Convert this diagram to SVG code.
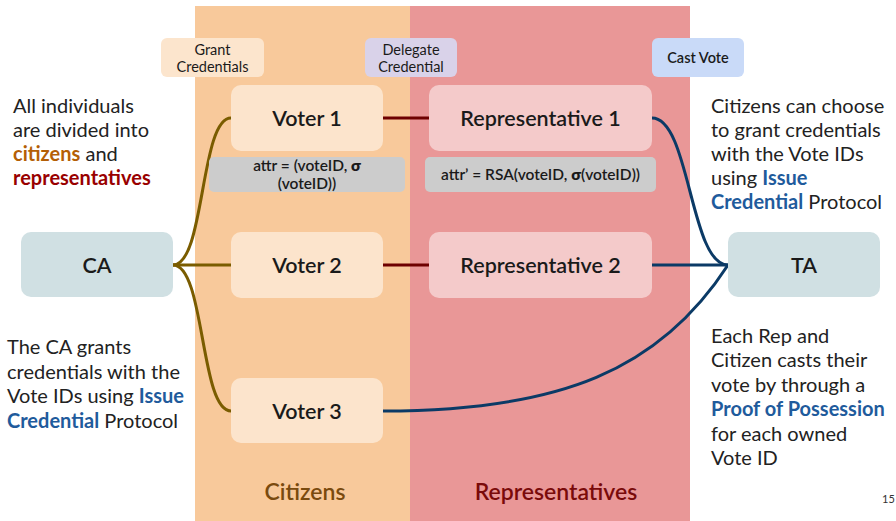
<svg xmlns="http://www.w3.org/2000/svg" width="896" height="521" viewBox="0 0 896 521">
<style>
text{font-family:Lato,"Open Sans","Liberation Sans",sans-serif;}
.node{font-size:21.5px;font-weight:600;fill:#1a1a1a;text-anchor:middle;}
.lbl{font-size:14.5px;fill:#1a1a1a;text-anchor:middle;}
.attr{font-size:15.5px;font-weight:600;fill:#1a1a1a;text-anchor:middle;}
.body{font-size:20px;fill:#222;}
.blue{fill:#1f5b9c;font-weight:700;}
.olive{fill:none;stroke:#7a5c00;stroke-width:3;}
.red{fill:none;stroke:#6e0000;stroke-width:3;}
.navy{fill:none;stroke:#0b3a66;stroke-width:3;}
</style>
<rect width="896" height="521" fill="#ffffff"/>
<rect x="195" y="6" width="215" height="515" fill="#f8c99b"/>
<rect x="410" y="6" width="280" height="515" fill="#e99797"/>
<text x="305" y="500" font-size="23" font-weight="600" fill="#7a4a0e" text-anchor="middle">Citizens</text>
<text x="556" y="500" font-size="23" font-weight="600" fill="#7a0a0a" text-anchor="middle">Representatives</text>
<g id="connectors">
<path class="olive" d="M173,265 C205,265 200,118 231,118"/>
<path class="olive" d="M173,265 L231,265"/>
<path class="olive" d="M173,265 C205,265 200,411 231,411"/>
<path class="red" d="M383,118 L429,118"/>
<path class="red" d="M383,265 L429,265"/>
<path class="navy" d="M652,118 C690,118 690,265 728,265"/>
<path class="navy" d="M652,265 L728,265"/>
<path class="navy" d="M383,411 C560,411 660,370 728,265"/>
</g>
<g id="grant-label"><rect x="161" y="38" width="103" height="39" rx="6" fill="#fce5cd"/><text class="lbl" x="212.5" y="55">Grant</text><text class="lbl" x="212.5" y="72">Credentials</text></g>
<g id="delegate-label"><rect x="365" y="38" width="92" height="39" rx="6" fill="#d9d2e9"/><text class="lbl" x="411" y="55">Delegate</text><text class="lbl" x="411" y="72">Credential</text></g>
<g id="cast-label"><rect x="652" y="38" width="92" height="39" rx="6" fill="#c9daf8"/><text class="lbl" x="698" y="63" font-weight="600">Cast Vote</text></g>
<g id="voter1"><rect x="231" y="85" width="152" height="66" rx="10" fill="#fce4cc"/><text class="node" x="307" y="126">Voter 1</text></g>
<g id="voter2"><rect x="231" y="232" width="152" height="66" rx="10" fill="#fce4cc"/><text class="node" x="307" y="273">Voter 2</text></g>
<g id="voter3"><rect x="231" y="378" width="152" height="65" rx="10" fill="#fce4cc"/><text class="node" x="307" y="419">Voter 3</text></g>
<g id="rep1"><rect x="429" y="85" width="223" height="66" rx="10" fill="#f4caca"/><text class="node" x="540.5" y="126">Representative 1</text></g>
<g id="rep2"><rect x="429" y="232" width="223" height="66" rx="10" fill="#f4caca"/><text class="node" x="540.5" y="273">Representative 2</text></g>
<g id="attr1"><rect x="209" y="157" width="196" height="35" rx="5" fill="#cccccc"/><text class="attr" x="307" y="171">attr = (voteID, <tspan font-weight="800">σ</tspan></text><text class="attr" x="307" y="189">(voteID))</text></g>
<g id="attr2"><rect x="425" y="157" width="231" height="35" rx="5" fill="#cccccc"/><text class="attr" x="540.5" y="180">attr’ = RSA(voteID, <tspan font-weight="800">σ</tspan>(voteID))</text></g>
<g id="ca"><rect x="21" y="232" width="152" height="65" rx="10" fill="#d0e0e3"/><text class="node" x="97" y="273">CA</text></g>
<g id="ta"><rect x="728" y="232" width="152" height="65" rx="10" fill="#d0e0e3"/><text class="node" x="804" y="273">TA</text></g>
<text class="body" x="13" y="113">All individuals</text>
<text class="body" x="13" y="137">are divided into</text>
<text class="body" x="13" y="161"><tspan fill="#b45f06" font-weight="700">citizens</tspan> and</text>
<text class="body" x="13" y="185"><tspan fill="#990000" font-weight="700">representatives</tspan></text>
<text class="body" x="711" y="113">Citizens can choose</text>
<text class="body" x="711" y="137">to grant credentials</text>
<text class="body" x="711" y="161">with the Vote IDs</text>
<text class="body" x="711" y="185">using <tspan class="blue">Issue</tspan></text>
<text class="body" x="711" y="209"><tspan class="blue">Credential</tspan> Protocol</text>
<text class="body" x="7" y="354">The CA grants</text>
<text class="body" x="7" y="379">credentials with the</text>
<text class="body" x="7" y="403">Vote IDs using <tspan class="blue">Issue</tspan></text>
<text class="body" x="7" y="428"><tspan class="blue">Credential</tspan> Protocol</text>
<text class="body" x="711" y="343">Each Rep and</text>
<text class="body" x="711" y="367">Citizen casts their</text>
<text class="body" x="711" y="392">vote by through a</text>
<text class="body" x="711" y="416"><tspan class="blue">Proof of Possession</tspan></text>
<text class="body" x="711" y="441">for each owned</text>
<text class="body" x="711" y="465">Vote ID</text>
<text x="882" y="503" font-family="Liberation Serif,serif" font-size="11" fill="#333">15</text>
</svg>
